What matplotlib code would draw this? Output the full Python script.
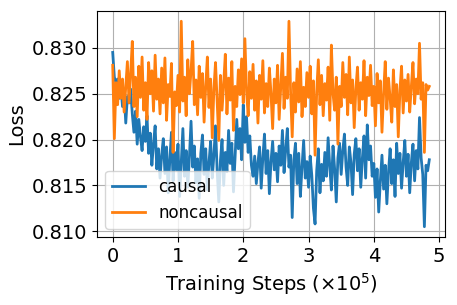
import numpy as np
import matplotlib
matplotlib.use('Agg')
import matplotlib.pyplot as plt

# training steps in units of 1e5, one point every 2500 steps
steps = np.arange(195) * 0.025

causal = [
    0.8295, 0.8268, 0.8262, 0.8266, 0.8245, 0.8258, 0.8236, 0.8252, 0.8218, 0.8247,
    0.8240, 0.8255, 0.8228, 0.8208, 0.8231, 0.8195, 0.8222, 0.8203, 0.8188, 0.8214,
    0.8198, 0.8226, 0.8185, 0.8207, 0.8172, 0.8196, 0.8215, 0.8168, 0.8190, 0.8158,
    0.8183, 0.8201, 0.8163, 0.8192, 0.8142, 0.8178, 0.8208, 0.8155, 0.8186, 0.8167,
    0.8195, 0.8138, 0.8176, 0.8212, 0.8160, 0.8188, 0.8148, 0.8181, 0.8220, 0.8170,
    0.8193, 0.8153, 0.8179, 0.8136, 0.8185, 0.8205, 0.8162, 0.8190, 0.8145, 0.8175,
    0.8198, 0.8158, 0.8183, 0.8215, 0.8166, 0.8132, 0.8177, 0.8200, 0.8150, 0.8186,
    0.8165, 0.8210, 0.8174, 0.8196, 0.8143, 0.8181, 0.8222, 0.8190, 0.8212, 0.8178,
    0.8238, 0.8197, 0.8225, 0.8186, 0.8204, 0.8172, 0.8160, 0.8182, 0.8152, 0.8175,
    0.8192, 0.8147, 0.8180, 0.8206, 0.8163, 0.8188, 0.8141, 0.8176, 0.8198, 0.8167,
    0.8185, 0.8154, 0.8193, 0.8172, 0.8210, 0.8164, 0.8189, 0.8212, 0.8170, 0.8183,
    0.8115, 0.8178, 0.8196, 0.8152, 0.8185, 0.8138, 0.8170, 0.8199, 0.8158, 0.8176,
    0.8148, 0.8182, 0.8161, 0.8125, 0.8108, 0.8166, 0.8190, 0.8142, 0.8173, 0.8155,
    0.8186, 0.8160, 0.8202, 0.8171, 0.8145, 0.8193, 0.8168, 0.8132, 0.8180, 0.8196,
    0.8162, 0.8188, 0.8206, 0.8170, 0.8150, 0.8192, 0.8175, 0.8140, 0.8184, 0.8201,
    0.8166, 0.8190, 0.8148, 0.8180, 0.8204, 0.8158, 0.8216, 0.8178, 0.8193, 0.8160,
    0.8174, 0.8137, 0.8168, 0.8121, 0.8155, 0.8183, 0.8146, 0.8172, 0.8130, 0.8165,
    0.8190, 0.8152, 0.8178, 0.8138, 0.8196, 0.8163, 0.8185, 0.8147, 0.8175, 0.8199,
    0.8160, 0.8184, 0.8142, 0.8175, 0.8195, 0.8155, 0.8188, 0.8168, 0.8224, 0.8180,
    0.8162, 0.8105, 0.8172, 0.8166, 0.8178,
]

noncausal = [
    0.8281, 0.8201, 0.8262, 0.8238, 0.8275, 0.8245, 0.8266, 0.8230, 0.8258, 0.8285,
    0.8240, 0.8272, 0.8307, 0.8236, 0.8268, 0.8225, 0.8280, 0.8246, 0.8290, 0.8232,
    0.8262, 0.8222, 0.8284, 0.8250, 0.8275, 0.8231, 0.8292, 0.8244, 0.8266, 0.8228,
    0.8278, 0.8240, 0.8289, 0.8221, 0.8260, 0.8247, 0.8283, 0.8186, 0.8252, 0.8237,
    0.8270, 0.8230, 0.8329, 0.8242, 0.8268, 0.8226, 0.8287, 0.8250, 0.8275, 0.8307,
    0.8238, 0.8265, 0.8227, 0.8280, 0.8246, 0.8272, 0.8219, 0.8258, 0.8290, 0.8235,
    0.8266, 0.8202, 0.8255, 0.8284, 0.8241, 0.8199, 0.8270, 0.8232, 0.8261, 0.8293,
    0.8228, 0.8267, 0.8243, 0.8285, 0.8210, 0.8258, 0.8236, 0.8276, 0.8249, 0.8288,
    0.8240, 0.8310, 0.8253, 0.8226, 0.8274, 0.8245, 0.8282, 0.8232, 0.8264, 0.8218,
    0.8270, 0.8244, 0.8286, 0.8229, 0.8261, 0.8236, 0.8278, 0.8250, 0.8212, 0.8266,
    0.8240, 0.8281, 0.8222, 0.8259, 0.8294, 0.8234, 0.8268, 0.8245, 0.8329, 0.8252,
    0.8203, 0.8262, 0.8230, 0.8277, 0.8241, 0.8285, 0.8225, 0.8257, 0.8236, 0.8273,
    0.8246, 0.8280, 0.8228, 0.8264, 0.8183, 0.8252, 0.8287, 0.8238, 0.8270, 0.8226,
    0.8261, 0.8243, 0.8279, 0.8221, 0.8303, 0.8250, 0.8232, 0.8268, 0.8195, 0.8258,
    0.8236, 0.8284, 0.8246, 0.8271, 0.8227, 0.8290, 0.8240, 0.8265, 0.8213, 0.8255,
    0.8279, 0.8232, 0.8262, 0.8244, 0.8286, 0.8226, 0.8268, 0.8248, 0.8281, 0.8237,
    0.8258, 0.8215, 0.8272, 0.8240, 0.8264, 0.8208, 0.8250, 0.8285, 0.8233, 0.8267,
    0.8245, 0.8219, 0.8276, 0.8236, 0.8260, 0.8203, 0.8254, 0.8280, 0.8229, 0.8265,
    0.8242, 0.8271, 0.8230, 0.8258, 0.8284, 0.8239, 0.8266, 0.8250, 0.8305, 0.8244,
    0.8262, 0.8186, 0.8260, 0.8254, 0.8258,
]

fig = plt.figure(figsize=(4.57, 3.05), dpi=100)
ax = fig.add_axes([0.212, 0.223, 0.762, 0.741])

ax.plot(steps, causal, '-', linewidth=2, label='causal')
ax.plot(steps, noncausal, '-', linewidth=2, label='noncausal')

ax.set_xticks([0, 1, 2, 3, 4, 5])
ax.set_yticks([0.810, 0.815, 0.820, 0.825, 0.830])
ax.set_xlabel(r'Training Steps ($\times10^5$)', fontsize=14)
ax.set_ylabel('Loss', fontsize=14)
ax.tick_params(axis='both', which='major', labelsize=14)
ax.grid(True)

ax.legend(loc='lower left', fontsize=12)

plt.savefig('out.png', dpi=100)
